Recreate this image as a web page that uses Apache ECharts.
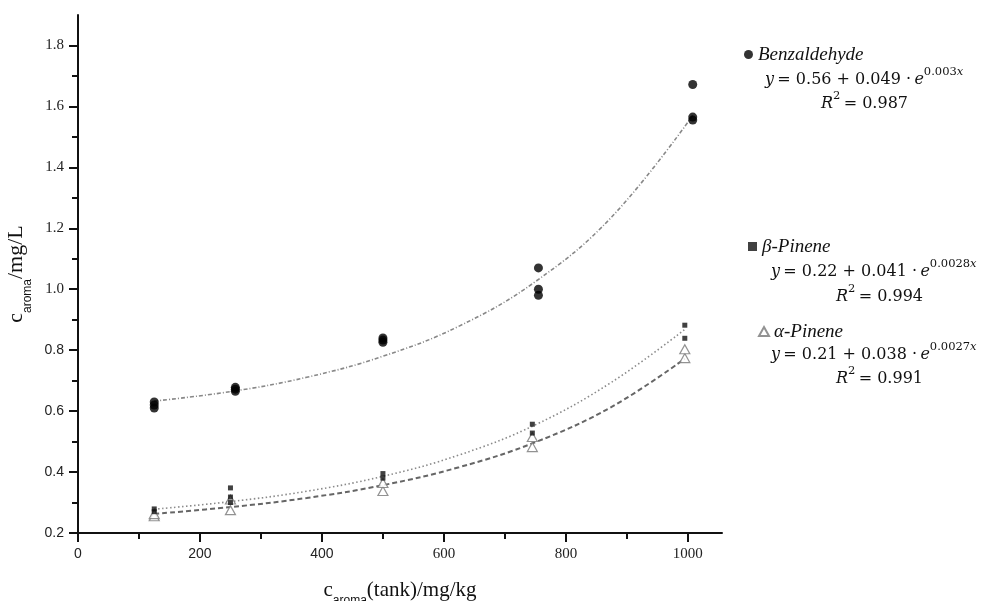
<!DOCTYPE html>
<html>
<head>
<meta charset="utf-8">
<script src="https://cdn.jsdelivr.net/npm/echarts@6/dist/echarts.min.js"></script>
<style>html,body{margin:0;padding:0;background:#fff;}#c{width:990px;height:601px;}</style>
</head>
<body>
<div id="c"></div>
<script>
// ---- data ----
const xMajorTicks = [0, 200, 400, 600, 800, 1000];
const xMinorTicks = [100, 300, 500, 700, 900];
const yMajorTicks = [0.2, 0.4, 0.6, 0.8, 1.0, 1.2, 1.4, 1.6, 1.8];
const yMinorTicks = [0.3, 0.5, 0.7, 0.9, 1.1, 1.3, 1.5, 1.7];

const benzX = [125, 258, 500, 755, 1008];
const benzY = [[0.61, 0.62, 0.63], [0.665, 0.672, 0.678], [0.826, 0.833, 0.84], [0.98, 1.0, 1.07], [1.555, 1.565, 1.672]];
const betaX = [125, 250, 500, 745, 995];
const betaY = [[0.27, 0.279], [0.30, 0.318, 0.348], [0.38, 0.395], [0.528, 0.557], [0.839, 0.882]];
const alphaX = [125, 250, 500, 745, 995];
const alphaY = [[0.255, 0.262], [0.275, 0.31], [0.338, 0.364], [0.482, 0.515], [0.774, 0.803]];

// fitted curves as traced in the picture
const benzFitX = [125, 250, 375, 500, 625, 750, 875, 1008];
const benzFitY = [0.633, 0.664, 0.711, 0.78, 0.879, 1.025, 1.237, 1.57];
const betaFitX = [125, 250, 375, 500, 625, 750, 875, 995];
const betaFitY = [0.278, 0.303, 0.337, 0.386, 0.456, 0.555, 0.695, 0.868];
const alphaFitX = [125, 250, 375, 500, 625, 750, 875, 995];
const alphaFitY = [0.263, 0.285, 0.315, 0.357, 0.416, 0.498, 0.614, 0.772];

const names = ['Benzaldehyde', 'β-Pinene', 'α-Pinene'];
const equations = [
  ['0.56', '0.049', '0.003', '0.987'],
  ['0.22', '0.041', '0.0028', '0.994'],
  ['0.21', '0.038', '0.0027', '0.991']
];

function pts(xs, ys) {
  const out = [];
  xs.forEach((x, i) => ys[i].forEach(y => out.push([x, y])));
  return out;
}
function line(xs, ys) { return xs.map((x, i) => [x, ys[i]]); }

const serif = 'Liberation Serif';
const sans = 'Liberation Sans';
const eqFont = 'DejaVu Serif';

const chart = echarts.init(document.getElementById('c'));

const eqRich = {
  i: { fontFamily: eqFont, fontStyle: 'italic', fontSize: 16, fill: '#111', lineHeight: 22, verticalAlign: 'bottom' },
  n: { fontFamily: eqFont, fontSize: 16, fill: '#111', lineHeight: 22, verticalAlign: 'bottom' },
  sup: { fontFamily: eqFont, fontSize: 11.5, fill: '#111', lineHeight: 22, verticalAlign: 'top', padding: [0, 0, 8, 0] },
  supi: { fontFamily: eqFont, fontStyle: 'italic', fontSize: 11.5, fill: '#111', lineHeight: 22, verticalAlign: 'top', padding: [0, 0, 8, 0] }
};

const graphics = [];
const eqTops = [[66, 90], [258, 283], [341, 365]];
const eqLeft = [765, 771, 771];
const r2Left = [821, 836, 836];
equations.forEach((e, i) => {
  graphics.push({
    type: 'text', left: eqLeft[i], top: eqTops[i][0],
    style: { text: '{i|y} {n|= ' + e[0] + ' + ' + e[1] + ' ·} {i|e}{sup|' + e[2] + '}{supi|x}', rich: eqRich }
  });
  graphics.push({
    type: 'text', left: r2Left[i], top: eqTops[i][1],
    style: { text: '{i|R}{sup|2} {n|= ' + e[3] + '}', rich: eqRich }
  });
});

const legendBase = {
  orient: 'vertical', itemGap: 0,
  textStyle: { fontFamily: serif, fontStyle: 'italic', fontSize: 19, color: '#111', padding: [0, 0, 0, 0] },
  selectedMode: false
};

const axisLineStyle = { lineStyle: { color: '#111', width: 2 } };

chart.setOption({
  animation: false,
  backgroundColor: '#fff',
  grid: { left: 78, top: 15, width: 644, height: 518, containLabel: false, outerBoundsMode: 'none' },
  legend: [
    Object.assign({}, legendBase, { data: [{ name: names[0], icon: 'circle' }], left: 739, top: 40, itemWidth: 9, itemHeight: 9 }),
    Object.assign({}, legendBase, { data: [{ name: names[1], icon: 'rect' }], left: 743, top: 232, itemWidth: 9, itemHeight: 9 }),
    Object.assign({}, legendBase, { data: [{ name: names[2], icon: 'triangle' }], left: 753, top: 317, itemWidth: 10, itemHeight: 9 })
  ],
  graphic: graphics,
  xAxis: [
    {
      type: 'value', min: 0, max: 1056,
      axisLine: axisLineStyle,
      axisTick: { show: true, inside: false, length: 9, lineStyle: { color: '#111', width: 2 }, customValues: xMajorTicks },
      axisLabel: {
        margin: 14, customValues: xMajorTicks,
        formatter: v => (v >= 600 ? '{r|' : '{s|') + v + '}',
        rich: { r: { fontFamily: serif, fontSize: 15, color: '#222' }, s: { fontFamily: sans, fontSize: 14, color: '#222' } }
      },
      splitLine: { show: false },
      name: '{m|c}{sub|aroma}{m|(tank)/mg/kg}',
      nameLocation: 'middle', nameGap: 42,
      nameTextStyle: {
        rich: {
          m: { fontFamily: serif, fontSize: 21, color: '#111', lineHeight: 26, verticalAlign: 'bottom' },
          sub: { fontFamily: sans, fontSize: 12, color: '#111', lineHeight: 26, verticalAlign: 'bottom', padding: [0, 0, -6, 0] }
        }
      }
    },
    {
      type: 'value', min: 0, max: 1056, position: 'bottom',
      axisLine: { show: false },
      axisTick: { show: true, inside: false, length: 6, lineStyle: { color: '#111', width: 2 }, customValues: xMinorTicks },
      axisLabel: { show: false },
      splitLine: { show: false }
    }
  ],
  yAxis: [
    {
      type: 'value', min: 0.2, max: 1.9,
      axisLine: axisLineStyle,
      axisTick: { show: true, inside: false, length: 9, lineStyle: { color: '#111', width: 2 }, customValues: yMajorTicks },
      axisLabel: {
        margin: 14, customValues: yMajorTicks,
        formatter: v => (v >= 0.95 ? '{r|' : '{s|') + v.toFixed(1) + '}',
        rich: { r: { fontFamily: serif, fontSize: 15, color: '#222' }, s: { fontFamily: sans, fontSize: 14, color: '#222' } }
      },
      splitLine: { show: false },
      name: '{m|c}{sub|aroma}{m|/mg/L}',
      nameLocation: 'middle', nameGap: 43, nameRotate: 90,
      nameTextStyle: {
        rich: {
          m: { fontFamily: serif, fontSize: 22, color: '#111', lineHeight: 26, verticalAlign: 'bottom' },
          sub: { fontFamily: sans, fontSize: 12, color: '#111', lineHeight: 26, verticalAlign: 'bottom', padding: [0, 0, -6, 0] }
        }
      }
    },
    {
      type: 'value', min: 0.2, max: 1.9, position: 'left',
      axisLine: { show: false },
      axisTick: { show: true, inside: false, length: 6, lineStyle: { color: '#111', width: 2 }, customValues: yMinorTicks },
      axisLabel: { show: false },
      splitLine: { show: false }
    }
  ],
  series: [
    {
      name: names[0] + ' fit', type: 'line', data: line(benzFitX, benzFitY), smooth: 0.4,
      symbol: 'none', lineStyle: { color: '#888', width: 1.6, type: [4, 2, 1, 2] }, z: 2
    },
    {
      name: names[1] + ' fit', type: 'line', data: line(betaFitX, betaFitY), smooth: 0.4,
      symbol: 'none', lineStyle: { color: '#8a8a8a', width: 1.6, type: [1.5, 2.5] }, z: 2
    },
    {
      name: names[2] + ' fit', type: 'line', data: line(alphaFitX, alphaFitY), smooth: 0.4,
      symbol: 'none', lineStyle: { color: '#666', width: 2, type: [5, 3] }, z: 2
    },
    {
      name: names[2], type: 'scatter', data: pts(alphaX, alphaY), symbol: 'triangle', symbolSize: [10, 9],
      itemStyle: { color: '#fff', borderColor: '#777', borderWidth: 1.2 }, z: 3
    },
    {
      name: names[1], type: 'scatter', data: pts(betaX, betaY), symbol: 'rect', symbolSize: 5,
      itemStyle: { color: '#111' }, z: 4
    },
    {
      name: names[0], type: 'scatter', data: pts(benzX, benzY), symbol: 'circle', symbolSize: 9,
      itemStyle: { color: '#000' }, z: 5
    }
  ]
});
</script>
</body>
</html>
